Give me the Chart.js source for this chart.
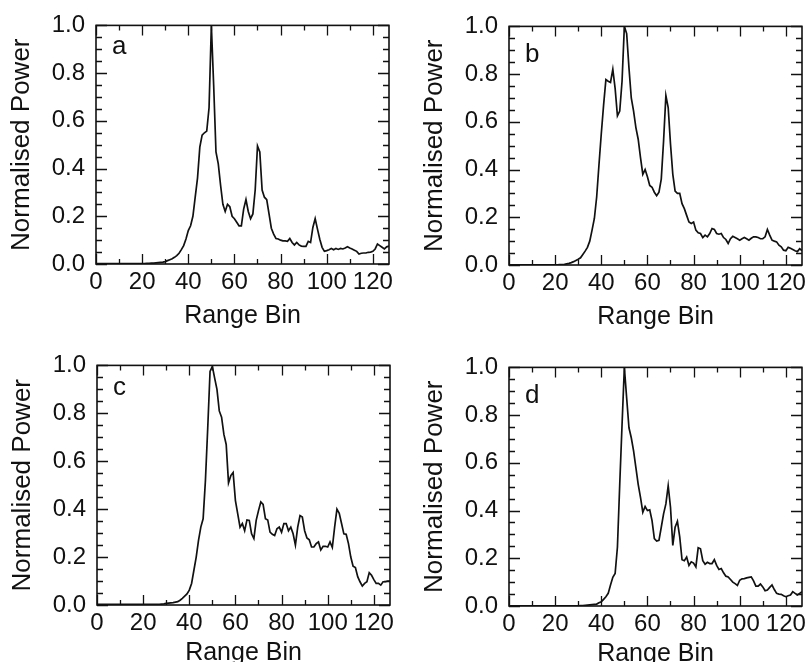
<!DOCTYPE html>
<html>
<head>
<meta charset="utf-8">
<script src="https://cdn.jsdelivr.net/npm/chart.js@4.4.1/dist/chart.umd.min.js"></script>
<style>
  html, body { margin: 0; padding: 0; background: #fff; overflow: hidden; }
  body { width: 806px; height: 662px; position: relative; }
  canvas { position: absolute; }
</style>
</head>
<body>
<canvas id="pa" width="403" height="331" style="left:0px;top:0px"></canvas>
<canvas id="pb" width="403" height="331" style="left:413px;top:1px"></canvas>
<canvas id="pc" width="403" height="328" style="left:1px;top:340px"></canvas>
<canvas id="pd" width="403" height="327" style="left:413px;top:342px"></canvas>
<script>
// range bins 0..127
const bins = [
  0, 1, 2, 3, 4, 5, 6, 7, 8, 9, 10, 11, 12, 13, 14, 15, 16, 17, 18, 19,
  20, 21, 22, 23, 24, 25, 26, 27, 28, 29, 30, 31, 32, 33, 34, 35, 36, 37, 38, 39,
  40, 41, 42, 43, 44, 45, 46, 47, 48, 49, 50, 51, 52, 53, 54, 55, 56, 57, 58, 59,
  60, 61, 62, 63, 64, 65, 66, 67, 68, 69, 70, 71, 72, 73, 74, 75, 76, 77, 78, 79,
  80, 81, 82, 83, 84, 85, 86, 87, 88, 89, 90, 91, 92, 93, 94, 95, 96, 97, 98, 99,
  100, 101, 102, 103, 104, 105, 106, 107, 108, 109, 110, 111, 112, 113, 114, 115, 116, 117, 118, 119,
  120, 121, 122, 123, 124, 125, 126, 127
];

// normalised power, panel a
const powerA = [
  0.002, 0.002, 0.002, 0.002, 0.002, 0.002, 0.002, 0.002, 0.002, 0.002,
  0.002, 0.002, 0.002, 0.002, 0.002, 0.002, 0.002, 0.002, 0.002, 0.002,
  0.002, 0.002, 0.003, 0.003, 0.004, 0.004, 0.005, 0.006, 0.007, 0.008,
  0.010, 0.014, 0.018, 0.022, 0.028, 0.035, 0.045, 0.060, 0.077, 0.105,
  0.14, 0.16, 0.20, 0.28, 0.36, 0.49, 0.54, 0.55, 0.557, 0.655,
  1.0, 0.75, 0.47, 0.42, 0.33, 0.25, 0.22, 0.25, 0.24, 0.20,
  0.19, 0.175, 0.16, 0.16, 0.23, 0.27, 0.22, 0.19, 0.21, 0.31,
  0.495, 0.47, 0.31, 0.28, 0.27, 0.21, 0.15, 0.125, 0.107, 0.105,
  0.10, 0.097, 0.097, 0.095, 0.107, 0.09, 0.08, 0.09, 0.08, 0.075,
  0.074, 0.074, 0.095, 0.09, 0.153, 0.19, 0.146, 0.104, 0.07, 0.053,
  0.056, 0.06, 0.065, 0.06, 0.065, 0.061, 0.065, 0.063, 0.067, 0.072,
  0.067, 0.063, 0.058, 0.053, 0.042, 0.045, 0.046, 0.046, 0.049, 0.05,
  0.053, 0.063, 0.084, 0.077, 0.07, 0.063, 0.072, 0.075
];

// panel b
const powerB = [
  0.001, 0.001, 0.001, 0.001, 0.001, 0.001, 0.001, 0.001, 0.001, 0.001,
  0.001, 0.001, 0.001, 0.001, 0.001, 0.001, 0.001, 0.001, 0.001, 0.001,
  0.001, 0.001, 0.002, 0.002, 0.003, 0.005, 0.007, 0.010, 0.014, 0.019,
  0.024, 0.030, 0.044, 0.058, 0.074, 0.10, 0.146, 0.195, 0.285, 0.42,
  0.55, 0.67, 0.777, 0.77, 0.765, 0.82, 0.74, 0.625, 0.645, 0.77,
  1.0, 0.97, 0.826, 0.70, 0.645, 0.576, 0.527, 0.45, 0.38, 0.40,
  0.37, 0.333, 0.326, 0.305, 0.29, 0.305, 0.36, 0.52, 0.71, 0.66,
  0.507, 0.38, 0.31, 0.30, 0.30, 0.257, 0.236, 0.208, 0.18, 0.174,
  0.18, 0.146, 0.135, 0.132, 0.115, 0.125, 0.118, 0.132, 0.153, 0.149,
  0.132, 0.129, 0.132, 0.115, 0.107, 0.09, 0.11, 0.12, 0.115, 0.11,
  0.104, 0.11, 0.115, 0.11, 0.104, 0.112, 0.118, 0.118, 0.115, 0.11,
  0.11, 0.118, 0.149, 0.125, 0.104, 0.10, 0.097, 0.083, 0.076, 0.062,
  0.06, 0.074, 0.07, 0.065, 0.06, 0.056, 0.068, 0.06
];

// panel c
const powerC = [
  0.003, 0.003, 0.003, 0.003, 0.003, 0.003, 0.003, 0.003, 0.003, 0.003,
  0.003, 0.003, 0.003, 0.003, 0.003, 0.003, 0.003, 0.003, 0.003, 0.003,
  0.003, 0.003, 0.003, 0.003, 0.003, 0.003, 0.003, 0.003, 0.004, 0.005,
  0.007, 0.008, 0.009, 0.010, 0.012, 0.014, 0.02, 0.028, 0.037, 0.046,
  0.062, 0.09, 0.145, 0.20, 0.27, 0.325, 0.36, 0.52, 0.74, 0.975,
  0.996, 0.947, 0.90, 0.81, 0.784, 0.712, 0.67, 0.51, 0.54, 0.553,
  0.436, 0.38, 0.325, 0.34, 0.31, 0.355, 0.353, 0.297, 0.277, 0.353,
  0.394, 0.43, 0.42, 0.36, 0.355, 0.304, 0.295, 0.29, 0.318, 0.325,
  0.304, 0.34, 0.34, 0.31, 0.325, 0.297, 0.25, 0.325, 0.373, 0.367,
  0.31, 0.28, 0.272, 0.242, 0.242, 0.256, 0.263, 0.23, 0.245, 0.245,
  0.242, 0.263, 0.24, 0.325, 0.40, 0.383, 0.34, 0.297, 0.295, 0.256,
  0.20, 0.162, 0.156, 0.118, 0.097, 0.079, 0.09, 0.097, 0.135, 0.124,
  0.106, 0.09, 0.09, 0.083, 0.097, 0.097, 0.10, 0.10
];

// panel d
const powerD = [
  0.001, 0.001, 0.001, 0.001, 0.001, 0.001, 0.001, 0.001, 0.001, 0.001,
  0.001, 0.001, 0.001, 0.001, 0.001, 0.001, 0.001, 0.001, 0.001, 0.001,
  0.001, 0.001, 0.001, 0.001, 0.001, 0.001, 0.001, 0.001, 0.001, 0.001,
  0.001, 0.002, 0.002, 0.003, 0.004, 0.005, 0.006, 0.007, 0.008, 0.014,
  0.018, 0.028, 0.039, 0.053, 0.088, 0.12, 0.136, 0.247, 0.51, 0.76,
  1.0, 0.872, 0.747, 0.705, 0.65, 0.58, 0.51, 0.455, 0.393, 0.417,
  0.40, 0.403, 0.358, 0.282, 0.272, 0.275, 0.33, 0.386, 0.428, 0.504,
  0.414, 0.254, 0.33, 0.355, 0.29, 0.194, 0.19, 0.205, 0.17, 0.185,
  0.18, 0.164, 0.244, 0.24, 0.19, 0.175, 0.183, 0.178, 0.178, 0.194,
  0.17, 0.153, 0.157, 0.139, 0.125, 0.122, 0.111, 0.10, 0.094, 0.086,
  0.108, 0.114, 0.115, 0.118, 0.12, 0.122, 0.105, 0.083, 0.083, 0.092,
  0.08, 0.064, 0.067, 0.078, 0.088, 0.069, 0.053, 0.05, 0.049, 0.043,
  0.039, 0.043, 0.046, 0.06, 0.053, 0.046, 0.053, 0.06
];

// tick marks drawn inside the frame (major ones get labels)
const xTickMarks = [0, 10, 20, 30, 40, 50, 60, 70, 80, 90, 100, 110, 120];
const yTickMarks = [0, 0.05, 0.1, 0.15, 0.2, 0.25, 0.3, 0.35, 0.4, 0.45, 0.5,
  0.55, 0.6, 0.65, 0.7, 0.75, 0.8, 0.85, 0.9, 0.95, 1.0];

const FONT = "'Liberation Sans', Arial, Helvetica, sans-serif";

// frame + inward ticks + panel letter
const frameTicks = {
  id: "frameTicks",
  afterDatasetsDraw(chart, args, opts) {
    const { ctx, chartArea, scales } = chart;
    const { left, right, top, bottom } = chartArea;
    ctx.save();
    ctx.strokeStyle = "#111";
    ctx.lineWidth = 1.3;
    ctx.beginPath();
    xTickMarks.forEach((v) => {
      const px = Math.round(scales.x.getPixelForValue(v)) + 0.5;
      const len = v % 20 === 0 ? 10 : 5;
      ctx.moveTo(px, bottom);
      ctx.lineTo(px, bottom - len);
      ctx.moveTo(px, top);
      ctx.lineTo(px, top + len);
    });
    yTickMarks.forEach((v) => {
      const py = Math.round(scales.y.getPixelForValue(v)) + 0.5;
      const major = Math.abs(v * 5 - Math.round(v * 5)) < 1e-6;
      const len = major ? 11 : 6;
      ctx.moveTo(left, py);
      ctx.lineTo(left + len, py);
      ctx.moveTo(right, py);
      ctx.lineTo(right - len, py);
    });
    ctx.stroke();
    ctx.lineWidth = 1.6;
    ctx.strokeRect(left, top, right - left, bottom - top);
    ctx.fillStyle = "#111";
    ctx.font = "26px " + FONT;
    ctx.textBaseline = "alphabetic";
    ctx.fillText(opts.letter, left + 16, top + opts.letterY);
    ctx.restore();
  },
};

function makePanel(id, values, letter, xAxisH, letterY) {
  const ctx = document.getElementById(id).getContext("2d");
  return new Chart(ctx, {
    type: "line",
    data: {
      labels: bins,
      datasets: [
        {
          data: values,
          borderColor: "#111",
          borderWidth: 1.7,
          pointRadius: 0,
          tension: 0,
          fill: false,
        },
      ],
    },
    plugins: [frameTicks],
    options: {
      responsive: false,
      animation: false,
      events: [],
      layout: { padding: { left: 0, top: 24, right: 14, bottom: 0 } },
      plugins: {
        legend: { display: false },
        tooltip: { enabled: false },
        frameTicks: { letter: letter, letterY: letterY },
      },
      scales: {
        x: {
          type: "linear",
          min: 0,
          max: 127,
          grid: { display: false, drawTicks: false },
          border: { display: false },
          ticks: {
            stepSize: 20,
            includeBounds: false,
            maxRotation: 0,
            autoSkip: false,
            padding: 4,
            color: "#111",
            font: { size: 24, family: FONT },
          },
          title: {
            display: true,
            text: "Range Bin",
            color: "#111",
            padding: 0,
            font: { size: 25, family: FONT },
          },
          afterFit: (scale) => {
            scale.height = xAxisH;
          },
        },
        y: {
          min: 0,
          max: 1,
          grid: { display: false, drawTicks: false },
          border: { display: false },
          ticks: {
            stepSize: 0.2,
            padding: 11,
            color: "#111",
            font: { size: 24, family: FONT },
            callback: (v) => v.toFixed(1),
          },
          title: {
            display: true,
            text: "Normalised Power",
            color: "#111",
            padding: { top: 6, bottom: 0 },
            font: { size: 26, family: FONT },
          },
          afterFit: (scale) => {
            scale.width = 96;
          },
        },
      },
    },
  });
}

makePanel("pa", powerA, "a", 67, 29);
makePanel("pb", powerB, "b", 67, 36);
makePanel("pc", powerC, "c", 63, 30);
makePanel("pd", powerD, "d", 63, 36);
</script>
</body>
</html>
